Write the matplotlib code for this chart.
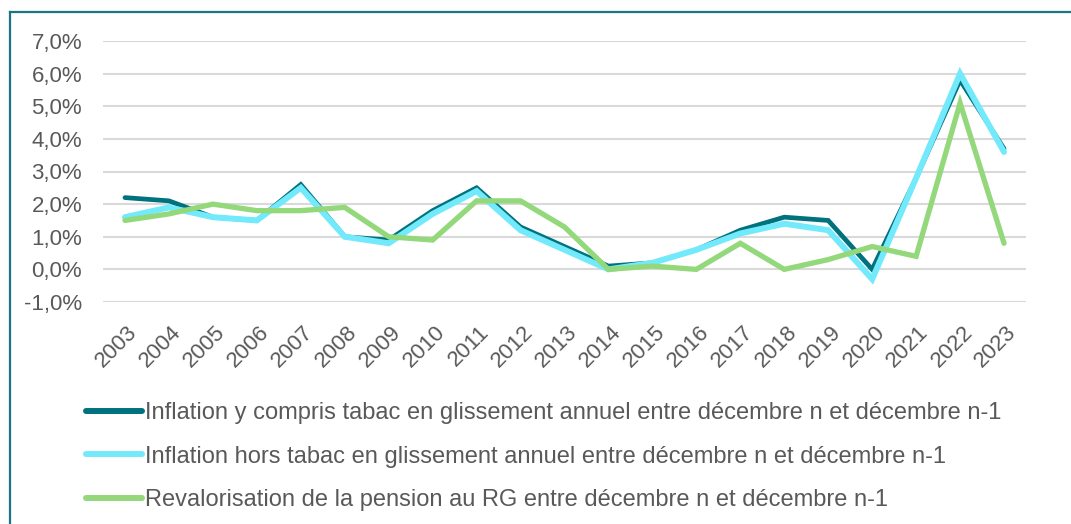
import matplotlib.pyplot as plt
from matplotlib.lines import Line2D
from matplotlib.ticker import FuncFormatter
from matplotlib.transforms import ScaledTranslation

years = [str(y) for y in range(2003, 2024)]

infl_tabac = [2.2, 2.1, 1.6, 1.5, 2.6, 1.0, 0.9, 1.8, 2.5, 1.3, 0.7,
              0.1, 0.2, 0.6, 1.2, 1.6, 1.5, 0.0, 2.8, 5.8, 3.7]
infl_hors_tabac = [1.6, 1.9, 1.6, 1.5, 2.5, 1.0, 0.8, 1.7, 2.4, 1.2, 0.6,
                   0.0, 0.2, 0.6, 1.1, 1.4, 1.2, -0.3, 2.8, 6.0, 3.6]
reval_rg = [1.5, 1.7, 2.0, 1.8, 1.8, 1.9, 1.0, 0.9, 2.1, 2.1, 1.3,
            0.0, 0.1, 0.0, 0.8, 0.0, 0.3, 0.7, 0.4, 5.1, 0.8]

labels = [
    "Inflation y compris tabac en glissement annuel entre décembre n et décembre n-1",
    "Inflation hors tabac en glissement annuel entre décembre n et décembre n-1",
    "Revalorisation de la pension au RG entre décembre n et décembre n-1",
]
colors = ["#00727E", "#72EAFB", "#93D87B"]
widths = [3.4, 4.3, 3.8]

plt.rcParams['font.family'] = ['Liberation Sans', 'DejaVu Sans']
grey = "#595959"

fig = plt.figure(figsize=(10.71, 5.24), dpi=100)
W, H = 1071, 524
ax = fig.add_axes([103 / W, 1 - 302 / H, (1026 - 103) / W, (302 - 41) / H])

x = list(range(len(years)))
for i, series in enumerate([infl_tabac, infl_hors_tabac, reval_rg]):
    ax.plot(x, series, color=colors[i], lw=widths[i], solid_joinstyle='miter',
            solid_capstyle='round', zorder=3 + i)

ax.set_xlim(-0.5, len(years) - 0.5)
ax.set_ylim(-1, 7)
ax.set_yticks(range(-1, 8))
ax.yaxis.set_major_formatter(FuncFormatter(lambda v, p: f"{v:.1f}%".replace('.', ',')))
ax.grid(axis='y', color='#D9D9D9', lw=1.5, zorder=1)
ax.set_xticks(x)
ax.set_xticklabels(years, rotation=45, ha='right', va='top', rotation_mode='anchor')
ax.tick_params(axis='both', length=0, colors=grey)
ax.tick_params(axis='y', pad=15, labelsize=16)
ax.tick_params(axis='x', pad=14, labelsize=16)
shift = ScaledTranslation(2 / 100, 0, fig.dpi_scale_trans)
for lab in ax.get_xticklabels():
    lab.set_transform(lab.get_transform() + shift)
for s in ax.spines.values():
    s.set_visible(False)

handles = [Line2D([], [], color=c, lw=4.3, solid_capstyle='round') for c in colors]
leg = fig.legend(handles, labels, loc='upper left', bbox_to_anchor=(86 / W, 1 - 402 / H),
                 frameon=False, fontsize=17, handlelength=2.37, handletextpad=0.13,
                 labelspacing=0.92, borderaxespad=0, borderpad=0)
for t in leg.get_texts():
    t.set_color(grey)

# cadre
fig.add_artist(Line2D([9.5 / W, 9.5 / W], [0, 1 - 12 / H], color='#1B7584', lw=1.6))
fig.add_artist(Line2D([9.5 / W, 1], [1 - 12 / H, 1 - 12 / H], color='#1B7584', lw=1.6))

fig.savefig('out.png', dpi=100, facecolor='white')
